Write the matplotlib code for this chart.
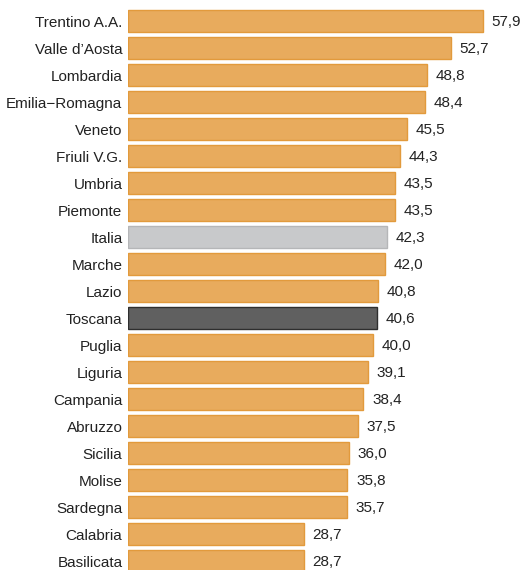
import matplotlib
matplotlib.use("Agg")
import matplotlib.pyplot as plt

plt.rcParams['font.family'] = ['Liberation Sans', 'DejaVu Sans']

regions = ["Trentino A.A.", "Valle d\u2019Aosta", "Lombardia", "Emilia\u2212Romagna", "Veneto",
           "Friuli V.G.", "Umbria", "Piemonte", "Italia", "Marche", "Lazio", "Toscana",
           "Puglia", "Liguria", "Campania", "Abruzzo", "Sicilia", "Molise", "Sardegna",
           "Calabria", "Basilicata"]
values = [57.9, 52.7, 48.8, 48.4, 45.5, 44.3, 43.5, 43.5, 42.3, 42.0, 40.8, 40.6,
          40.0, 39.1, 38.4, 37.5, 36.0, 35.8, 35.7, 28.7, 28.7]

fill = []
edge = []
for r in regions:
    if r == "Italia":
        fill.append("#C8C9CB")
        edge.append("#B5B6B8")
    elif r == "Toscana":
        fill.append("#606060")
        edge.append("#2E2E2E")
    else:
        fill.append("#E8AB5D")
        edge.append("#E29A3C")

fig = plt.figure(figsize=(5.23, 5.70), dpi=100)
ax = fig.add_axes([128 / 523, 0, 395 / 523, 1])

pos = list(range(len(regions)))
ax.barh(pos, values, height=0.8, color=fill, edgecolor=edge, linewidth=1.0)

for p, v in zip(pos, values):
    ax.text(v + 1.4, p + 0.05, f"{v:.1f}".replace(".", ","), va="center", ha="left",
            fontsize=11, color="#222222")

ax.set_xlim(0, 395 / 6.13)
ax.set_ylim(20.333, -0.778)
ax.set_yticks(pos)
ax.set_yticklabels(regions, fontsize=11, color="#222222")
for t in ax.get_yticklabels():
    t.set_va("center_baseline")
ax.tick_params(axis="y", length=0, pad=4)
ax.set_xticks([])
for s in ax.spines.values():
    s.set_visible(False)

fig.savefig("out.png", dpi=100)
